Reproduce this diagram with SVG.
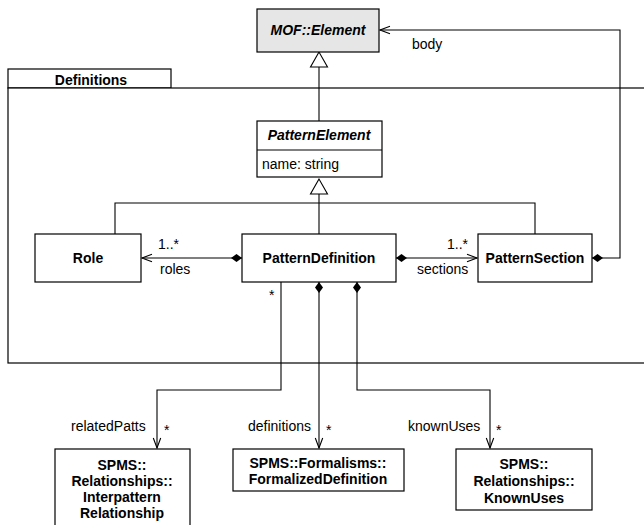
<svg xmlns="http://www.w3.org/2000/svg" width="644" height="525" viewBox="0 0 644 525">
  <style>
    .box { fill: #ffffff; stroke: #000000; stroke-width: 1.2; }
    .abstract { fill: #e6e6e6; }
    .edge { fill: none; stroke: #000000; stroke-width: 1.1; }
    .title { font-family: "Liberation Sans", Arial, sans-serif; font-size: 14px; font-weight: bold; fill: #000; text-anchor: middle; }
    .ital { font-style: italic; }
    .lbl { font-family: "Liberation Sans", Arial, sans-serif; font-size: 14px; fill: #000; }
    .gen { fill: #ffffff; stroke: #000000; stroke-width: 1.1; }
  </style>
  <defs>
    <marker id="open" viewBox="0 0 12 10" refX="11" refY="5" markerWidth="12" markerHeight="10" markerUnits="userSpaceOnUse" orient="auto">
      <path d="M1,1.3 L11,5 L1,8.7" fill="none" stroke="#000" stroke-width="1.1"/>
    </marker>
    <marker id="diamond" viewBox="0 0 12 10" refX="0.5" refY="5" markerWidth="12" markerHeight="10" markerUnits="userSpaceOnUse" orient="auto">
      <path d="M0.5,5 L6,1 L11.5,5 L6,9 Z" fill="#000"/>
    </marker>
  </defs>

  <!-- package Definitions -->
  <g id="pkg-definitions">
    <rect class="box" x="8" y="69" width="163" height="19"/>
    <rect class="box" x="8" y="88" width="660" height="275"/>
    <text class="title" x="91" y="85">Definitions</text>
  </g>

  <!-- connectors -->
  <g id="connectors">
    <!-- generalizations -->
    <path class="edge" d="M319,67 L319,121"/>
    <polygon class="gen" points="319,52 310.5,67 327.5,67"/>
    <path class="edge" d="M319,194 L319,234 M115,234 L115,203 L535,203 L535,234"/>
    <polygon class="gen" points="319,179 310.5,194 327.5,194"/>
    <!-- body -->
    <path class="edge" d="M592,258 L620,258 L620,30 L380,30" marker-start="url(#diamond)" marker-end="url(#open)"/>
    <!-- roles -->
    <path class="edge" d="M242,258 L142,258" marker-start="url(#diamond)" marker-end="url(#open)"/>
    <!-- sections -->
    <path class="edge" d="M396,258 L477,258" marker-start="url(#diamond)" marker-end="url(#open)"/>
    <!-- relatedPatts -->
    <path class="edge" d="M281,282 L281,390 L157,390 L157,448" marker-end="url(#open)"/>
    <!-- definitions -->
    <path class="edge" d="M319,282 L319,448" marker-start="url(#diamond)" marker-end="url(#open)"/>
    <!-- knownUses -->
    <path class="edge" d="M357,282 L357,390 L490,390 L490,448" marker-start="url(#diamond)" marker-end="url(#open)"/>

    <text class="lbl" x="412" y="49">body</text>
    <text class="lbl" x="158" y="249">1..*</text>
    <text class="lbl" x="160" y="274">roles</text>
    <text class="lbl" x="447" y="249">1..*</text>
    <text class="lbl" x="417" y="274">sections</text>
    <text class="lbl" x="269" y="300">*</text>
    <text class="lbl" x="71" y="431">relatedPatts</text>
    <text class="lbl" x="164" y="435">*</text>
    <text class="lbl" x="248" y="431">definitions</text>
    <text class="lbl" x="326" y="435">*</text>
    <text class="lbl" x="408" y="431">knownUses</text>
    <text class="lbl" x="496" y="435">*</text>
  </g>

  <g id="mof-element">
    <rect class="box abstract" x="257" y="9" width="122" height="43"/>
    <text class="title ital" x="318" y="35">MOF::Element</text>
  </g>

  <g id="pattern-element">
    <rect class="box" x="257" y="121" width="125" height="56"/>
    <line class="edge" x1="257" y1="150" x2="382" y2="150"/>
    <text class="title ital" x="319" y="140">PatternElement</text>
    <text class="lbl" x="262" y="169">name: string</text>
  </g>

  <g id="role">
    <rect class="box" x="35" y="234" width="106" height="48"/>
    <text class="title" x="88" y="263">Role</text>
  </g>

  <g id="pattern-definition">
    <rect class="box" x="242" y="234" width="154" height="48"/>
    <text class="title" x="319" y="263">PatternDefinition</text>
  </g>

  <g id="pattern-section">
    <rect class="box" x="478" y="234" width="114" height="48"/>
    <text class="title" x="535" y="263">PatternSection</text>
  </g>

  <g id="interpattern-relationship">
    <rect class="box" x="55" y="449" width="135" height="80"/>
    <text class="title" x="122" y="470">SPMS::</text>
    <text class="title" x="122" y="486">Relationships::</text>
    <text class="title" x="122" y="502">Interpattern</text>
    <text class="title" x="122" y="518">Relationship</text>
  </g>

  <g id="formalized-definition">
    <rect class="box" x="233" y="449" width="171" height="42"/>
    <text class="title" x="318" y="468">SPMS::Formalisms::</text>
    <text class="title" x="318" y="484">FormalizedDefinition</text>
  </g>

  <g id="known-uses">
    <rect class="box" x="456" y="449" width="136" height="61"/>
    <text class="title" x="524" y="469">SPMS::</text>
    <text class="title" x="524" y="486">Relationships::</text>
    <text class="title" x="524" y="503">KnownUses</text>
  </g>
</svg>
